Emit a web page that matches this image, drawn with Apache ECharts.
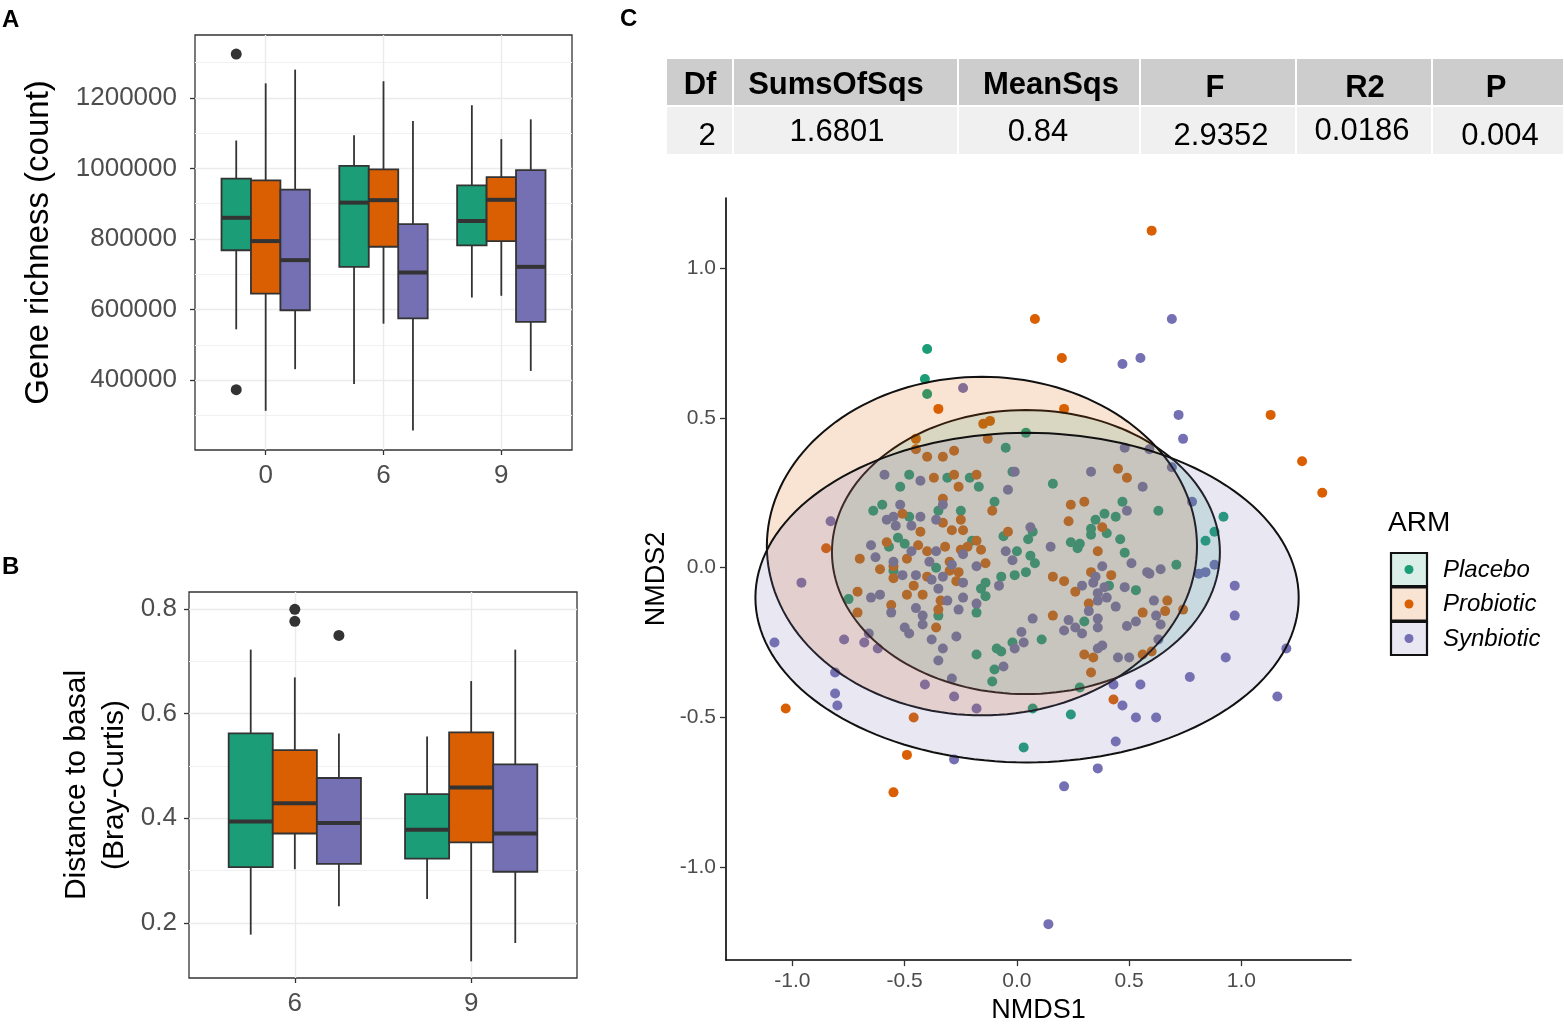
<!DOCTYPE html>
<html>
<head>
<meta charset="utf-8">
<script src="https://cdn.jsdelivr.net/npm/echarts@6/dist/echarts.min.js"></script>
<style>
  html, body { margin: 0; padding: 0; background: #fff; }
  #chart { width: 1564px; height: 1029px; }
</style>
</head>
<body>
<div id="chart"></div>
<script>
const FONT = '"Liberation Sans", Arial, Helvetica, sans-serif';

// groups
const armNames = ["Placebo", "Probiotic", "Synbiotic"];
const armColors = ["#1b9e77", "#d95f02", "#7570b3"];
const armFills = ["rgba(27,158,119,0.17)", "rgba(217,95,2,0.17)", "rgba(117,112,179,0.17)"];

// panel A: gene richness, one box per time point [low, q1, median, q3, high]
const timesA = ["0", "6", "9"];
const richnessPlacebo = [[544000, 768000, 860000, 971000, 1079000], [389000, 721000, 903000, 1007000, 1094000], [634000, 782000, 851000, 952000, 1179000]];
const richnessProbiotic = [[313000, 645000, 794000, 966000, 1241000], [560000, 778000, 910000, 997000, 1247000], [639000, 794000, 911000, 975000, 1083000]];
const richnessSynbiotic = [[431000, 598000, 740000, 940000, 1280000], [257000, 575000, 705000, 842000, 1134000], [426000, 565000, 721000, 995000, 1139000]];
// [time index, arm index, value]
const richnessOutliers = [[0, 0, 1324000], [0, 0, 373000]];
const richTicks = [400000, 600000, 800000, 1000000, 1200000];
const richMinor = [300000, 500000, 700000, 900000, 1100000, 1300000];

// panel B: distance to basal (Bray-Curtis)
const timesB = ["6", "9"];
const distPlacebo = [[0.178, 0.307, 0.394, 0.562, 0.722], [0.246, 0.323, 0.378, 0.446, 0.556]];
const distProbiotic = [[0.303, 0.371, 0.429, 0.530, 0.669], [0.127, 0.354, 0.459, 0.564, 0.662]];
const distSynbiotic = [[0.232, 0.313, 0.391, 0.477, 0.562], [0.162, 0.298, 0.371, 0.503, 0.722]];
const distOutliers = [[0, 1, 0.799], [0, 1, 0.776], [0, 2, 0.749]];
const distTicks = [0.2, 0.4, 0.6, 0.8];
const distMinor = [0.3, 0.5, 0.7];

// panel C: NMDS ordination
const placeboPts = [
  [-0.40, 0.73], [-0.41, 0.63], [-0.40, 0.58], [0.03, -0.60], [0.24, -0.49], [0.07, -0.47], [0.92, 0.17], [0.88, 0.12], [0.84, 0.09], [0.28, -0.40],
  [-0.75, -0.105], [-0.35, -0.16], [-0.18, -0.29], [-0.14, -0.095], [-0.16, -0.07], [-0.14, -0.05], [-0.18, -0.15], [-0.11, -0.38], [-0.10, -0.34], [-0.09, -0.27],
  [-0.48, 0.31], [-0.31, 0.30], [-0.21, 0.30], [-0.17, 0.27], [-0.52, 0.27], [-0.60, 0.21], [-0.64, 0.19], [-0.48, 0.17], [-0.35, 0.19], [-0.25, 0.19],
  [-0.10, 0.22], [-0.53, 0.10], [-0.50, 0.08], [-0.57, 0.07], [-0.20, 0.09], [-0.36, 0.00], [-0.55, -0.01], [0.04, 0.45], [-0.05, 0.40], [-0.02, 0.32],
  [0.16, 0.28], [0.47, 0.22], [0.63, 0.19], [0.44, 0.17], [0.39, 0.18], [0.35, 0.16], [0.33, 0.13], [0.33, 0.11], [0.40, 0.115], [0.24, 0.085],
  [0.28, 0.08], [0.27, 0.065], [0.46, 0.095], [0.48, 0.05], [0.71, 0.01], [0.07, 0.12], [0.05, 0.095], [-0.06, 0.105], [0.00, 0.055], [0.06, 0.04],
  [0.08, 0.015], [0.04, -0.015], [-0.01, -0.025], [-0.07, -0.03], [0.53, -0.075], [0.30, -0.18], [0.11, -0.24], [-0.02, -0.25], [-0.07, -0.28], [0.41, -0.06]
];
const probioticPts = [
  [0.60, 1.125], [0.08, 0.83], [0.20, 0.70], [0.21, 0.53], [1.13, 0.51], [1.27, 0.355], [1.36, 0.25], [-1.03, -0.47], [-0.49, -0.625], [-0.55, -0.75],
  [-0.46, -0.50], [0.43, -0.44], [-0.35, 0.53], [-0.71, -0.08], [-0.71, -0.15], [-0.56, -0.125], [-0.49, -0.09], [-0.46, -0.06], [-0.42, -0.09], [-0.55, -0.035],
  [-0.36, -0.20], [-0.35, -0.14], [-0.34, -0.11], [-0.27, -0.045], [-0.40, -0.03], [-0.45, 0.43], [-0.45, 0.395], [-0.40, 0.37], [-0.33, 0.37], [-0.28, 0.39],
  [-0.37, 0.30], [-0.28, 0.31], [-0.18, 0.31], [-0.26, 0.27], [-0.13, 0.43], [-0.15, 0.48], [-0.12, 0.49], [-0.33, 0.23], [-0.25, 0.16], [-0.29, 0.125],
  [-0.24, 0.125], [-0.43, 0.12], [-0.51, 0.18], [-0.33, 0.15], [-0.58, 0.085], [-0.44, 0.075], [-0.40, 0.055], [-0.32, 0.07], [-0.25, 0.06], [-0.22, 0.07],
  [-0.18, 0.09], [-0.16, 0.06], [-0.14, 0.015], [-0.30, 0.02], [-0.49, 0.03], [-0.70, 0.03], [-0.61, -0.005], [-0.55, 0.005], [-0.30, -0.01], [-0.26, -0.015],
  [-0.85, 0.065], [-0.11, 0.19], [0.45, 0.33], [0.49, 0.30], [0.24, 0.21], [0.30, 0.22], [0.23, 0.155], [0.38, 0.135], [0.36, 0.055], [-0.04, 0.12],
  [0.16, -0.03], [0.21, -0.045], [0.42, -0.025], [0.33, -0.015], [0.26, -0.08], [0.32, -0.12], [0.16, -0.16], [0.56, -0.15], [0.66, -0.145], [0.67, -0.11],
  [0.74, -0.14], [0.30, -0.29], [0.34, -0.30], [0.33, -0.35], [0.56, -0.29], [0.60, -0.28]
];
const synbioticPts = [
  [0.69, 0.83], [0.55, 0.70], [0.47, 0.68], [0.72, 0.51], [0.74, 0.43], [-0.24, 0.60], [-0.96, -0.05], [-1.08, -0.25], [-0.81, -0.35], [-0.81, -0.42],
  [-0.80, -0.46], [0.97, -0.06], [0.88, 0.01], [0.97, -0.16], [0.93, -0.30], [1.20, -0.27], [1.16, -0.43], [0.77, -0.365], [0.62, -0.50], [0.53, -0.50],
  [0.44, -0.58], [0.36, -0.67], [0.21, -0.73], [-0.28, -0.64], [0.14, -1.19], [0.47, -0.46], [0.43, -0.39], [0.55, -0.39], [-0.77, -0.24], [-0.68, -0.25],
  [-0.62, -0.27], [-0.66, -0.22], [-0.41, -0.39], [-0.28, -0.43], [-0.18, -0.47], [-0.29, -0.37], [-0.35, -0.31], [-0.33, -0.27], [-0.38, -0.24], [-0.27, -0.23],
  [-0.65, -0.10], [-0.61, -0.09], [-0.56, -0.15], [-0.45, -0.135], [-0.42, -0.16], [-0.42, -0.19], [-0.50, -0.20], [-0.48, -0.22], [-0.38, -0.04], [-0.35, -0.07],
  [-0.31, -0.11], [-0.24, -0.10], [-0.26, -0.14], [-0.18, -0.12], [-0.24, -0.05], [-0.08, -0.06], [-0.59, 0.31], [-0.43, 0.29], [-0.52, 0.21], [-0.33, 0.21],
  [-0.43, 0.17], [-0.58, 0.16], [-0.55, 0.17], [-0.54, 0.14], [-0.47, 0.14], [-0.36, 0.16], [-0.65, 0.075], [-0.63, 0.035], [-0.47, 0.055], [-0.36, 0.055],
  [-0.55, 0.02], [-0.51, -0.025], [-0.45, -0.025], [-0.39, 0.02], [-0.33, -0.03], [-0.29, 0.01], [-0.24, 0.045], [-0.18, 0.005], [-0.83, 0.155], [-0.01, 0.32],
  [-0.04, 0.26], [0.33, 0.32], [0.48, 0.40], [0.59, 0.395], [0.56, 0.27], [0.69, 0.335], [0.49, 0.19], [0.06, 0.135], [0.15, 0.07], [-0.05, 0.055],
  [-0.02, 0.025], [0.51, 0.015], [0.58, -0.015], [0.64, -0.005], [0.38, 0.005], [0.35, -0.03], [0.78, 0.22], [0.81, -0.02], [0.84, -0.015], [0.07, -0.17],
  [0.23, -0.175], [0.21, -0.21], [0.26, -0.20], [0.29, -0.22], [0.36, -0.17], [0.36, -0.20], [0.32, -0.145], [0.44, -0.13], [0.48, -0.065], [0.61, -0.11],
  [0.62, -0.16], [0.64, -0.19], [0.53, -0.18], [0.49, -0.195], [0.63, -0.24], [0.02, -0.215], [0.03, -0.25], [-0.01, -0.27], [-0.06, -0.33], [0.36, -0.27],
  [0.38, -0.26], [0.45, -0.30], [0.50, -0.30], [0.29, -0.06], [0.34, -0.05], [0.39, -0.065], [0.36, -0.085], [0.40, -0.10], [0.36, -0.11], [0.59, -0.02]
];
// confidence ellipses: [centre x, centre y, radius x, radius y]
const placeboEllipse = [0.04, 0.052, 0.864, 0.474];
const probioticEllipse = [-0.156, 0.072, 0.958, 0.565];
const synbioticEllipse = [0.045, -0.1, 1.21, 0.55];
const nmdsTicks = [-1.0, -0.5, 0.0, 0.5, 1.0];

// PERMANOVA table
const tableHeader = ["Df", "SumsOfSqs", "MeanSqs", "F", "R2", "P"];
const tableRow = ["2", "1.6801", "0.84", "2.9352", "0.0186", "0.004"];

const chart = echarts.init(document.getElementById("chart"));

function boxSeries(xIdx, yIdx, arm, boxes) {
  return {
    type: "custom",
    xAxisIndex: xIdx,
    yAxisIndex: yIdx,
    z: 3,
    data: boxes.map((b, i) => [i].concat(b)),
    encode: { x: 0, y: [1, 2, 3, 4, 5] },
    renderItem: function (params, api) {
      const cat = api.value(0);
      const w = api.size([1, 0])[0] * 0.25;
      const xc = api.coord([cat, api.value(3)])[0] + (arm - 1) * w;
      const py = (i) => api.coord([cat, api.value(i)])[1];
      const stroke = "#333333";
      return {
        type: "group",
        children: [
          { type: "line", shape: { x1: xc, y1: py(5), x2: xc, y2: py(4) }, style: { stroke: stroke, lineWidth: 1.8 } },
          { type: "line", shape: { x1: xc, y1: py(2), x2: xc, y2: py(1) }, style: { stroke: stroke, lineWidth: 1.8 } },
          { type: "rect", shape: { x: xc - w / 2, y: py(4), width: w, height: py(2) - py(4) }, style: { fill: armColors[arm], stroke: stroke, lineWidth: 1.8 } },
          { type: "line", shape: { x1: xc - w / 2, y1: py(3), x2: xc + w / 2, y2: py(3) }, style: { stroke: stroke, lineWidth: 4 } }
        ]
      };
    }
  };
}

function outlierSeries(xIdx, yIdx, outliers) {
  return {
    type: "scatter",
    xAxisIndex: xIdx,
    yAxisIndex: yIdx,
    z: 4,
    symbolSize: 11,
    itemStyle: { color: "#333333", opacity: 1 },
    data: outliers.map((o) => [o[0] + (o[1] - 1) * 0.25, o[2]])
  };
}

const tickStyle = { color: "#333333", width: 1.3 };
const labelBase = { color: "#4d4d4d", fontFamily: FONT };
const gridLine = { lineStyle: { color: "#ebebeb", width: 1.4 } };

function catAxis(gridIndex, labels) {
  const vals = labels.map((l, i) => i);
  return {
    gridIndex: gridIndex, type: "value", min: -0.6, max: labels.length - 0.4,
    axisLine: { show: false, onZero: false },
    axisTick: { customValues: vals, length: 5, lineStyle: tickStyle },
    axisLabel: Object.assign({ customValues: vals, formatter: (v) => labels[Math.round(v)], fontSize: 26, margin: 13 }, labelBase),
    splitLine: Object.assign({ show: true }, gridLine)
  };
}

function minorAxis(gridIndex, min, max, vals) {
  return {
    gridIndex: gridIndex, type: "value", min: min, max: max, position: "left",
    axisLine: { show: false, onZero: false }, axisLabel: { show: false },
    axisTick: { show: false, customValues: vals },
    splitLine: { show: true, lineStyle: { color: "#f1f1f1", width: 1 } }
  };
}

const nameStyle = { color: "#000", fontFamily: FONT };

// graphic bits: panel letters, table, legend
const graphics = [];
[["A", 2, 8], ["B", 2, 555], ["C", 620, 7]].forEach((p) => {
  graphics.push({ type: "text", x: p[1], y: p[2], style: { text: p[0], fontSize: 24, fontWeight: "bold", fontFamily: FONT, fill: "#000" } });
});
const colEdges = [666, 733, 958, 1140, 1296, 1432, 1564];
const headX = [700, 836, 1051, 1215, 1365, 1496];
const headY = [101, 101, 101, 104, 104, 104];
const rowX = [707, 837, 1038, 1221, 1362, 1500];
const rowY = [152, 148, 148, 152, 147, 152];
tableHeader.forEach((h, i) => {
  const x0 = colEdges[i] + 1, x1 = colEdges[i + 1] - 1;
  graphics.push({ type: "rect", shape: { x: x0, y: 59, width: x1 - x0, height: 46 }, style: { fill: "#cdcdcd" } });
  graphics.push({ type: "rect", shape: { x: x0, y: 107, width: x1 - x0, height: 47 }, style: { fill: "#f0f0f0" } });
  graphics.push({ type: "text", x: headX[i], y: headY[i], style: { text: h, fontSize: 31, fontWeight: "bold", fontFamily: FONT, fill: "#000", align: "center", verticalAlign: "bottom" } });
  graphics.push({ type: "text", x: rowX[i], y: rowY[i], style: { text: tableRow[i], fontSize: 31, fontFamily: FONT, fill: "#000", align: "center", verticalAlign: "bottom" } });
});
graphics.push({ type: "text", x: 1388, y: 537, style: { text: "ARM", fontSize: 28, fontFamily: FONT, fill: "#000", verticalAlign: "bottom" } });
armNames.forEach((n, i) => {
  const top = 553 + i * 34.5;
  graphics.push({ type: "rect", shape: { x: 1391, y: top, width: 36, height: 33 }, style: { fill: armFills[i], stroke: "#111", lineWidth: 2.2 } });
  graphics.push({ type: "circle", shape: { cx: 1409, cy: top + 16.5, r: 4.5 }, style: { fill: armColors[i] } });
  graphics.push({ type: "text", x: 1443, y: top + 17, style: { text: n, fontSize: 24, fontStyle: "italic", fontFamily: FONT, fill: "#000", verticalAlign: "middle" } });
});

const option = {
  animation: false,
  backgroundColor: "#ffffff",
  textStyle: { fontFamily: FONT },
  grid: [
    { left: 195, top: 35, width: 377, height: 415, show: true, borderColor: "#333333", borderWidth: 1.3, backgroundColor: "transparent" },
    { left: 189, top: 592, width: 388, height: 386, show: true, borderColor: "#333333", borderWidth: 1.3, backgroundColor: "transparent" },
    { left: 726, top: 198, width: 625, height: 772 }
  ],
  xAxis: [
    catAxis(0, timesA),
    catAxis(1, timesB),
    {
      gridIndex: 2, type: "value", min: -1.296, max: 1.488,
      axisLine: { show: true, onZero: false, lineStyle: { color: "#000", width: 1.6 } },
      axisTick: { customValues: nmdsTicks, length: 6, lineStyle: tickStyle },
      axisLabel: Object.assign({ customValues: nmdsTicks, formatter: (v) => v.toFixed(1), fontSize: 21, margin: 11 }, labelBase),
      splitLine: { show: false },
      name: "NMDS1", nameLocation: "middle", nameGap: 32,
      nameTextStyle: Object.assign({ fontSize: 27 }, nameStyle)
    }
  ],
  yAxis: [
    {
      gridIndex: 0, type: "value", min: 202000, max: 1378000,
      axisLine: { show: false, onZero: false },
      axisTick: { customValues: richTicks, length: 5, lineStyle: tickStyle },
      axisLabel: Object.assign({ customValues: richTicks, formatter: (v) => String(v), fontSize: 26, margin: 18 }, labelBase),
      splitLine: Object.assign({ show: true }, gridLine),
      name: "Gene richness (count)", nameLocation: "middle", nameRotate: 90, nameGap: 140,
      nameTextStyle: Object.assign({ fontSize: 33 }, nameStyle)
    },
    minorAxis(0, 202000, 1378000, richMinor),
    {
      gridIndex: 1, type: "value", min: 0.0952, max: 0.832,
      axisLine: { show: false, onZero: false },
      axisTick: { customValues: distTicks, length: 5, lineStyle: tickStyle },
      axisLabel: Object.assign({ customValues: distTicks, formatter: (v) => v.toFixed(1), fontSize: 26, margin: 12 }, labelBase),
      splitLine: Object.assign({ show: true }, gridLine),
      name: "Distance to basal\n(Bray-Curtis)", nameLocation: "middle", nameRotate: 90, nameGap: 55,
      nameTextStyle: Object.assign({ fontSize: 30, lineHeight: 38, align: "center" }, nameStyle)
    },
    minorAxis(1, 0.0952, 0.832, distMinor),
    {
      gridIndex: 2, type: "value", min: -1.31, max: 1.234,
      axisLine: { show: true, onZero: false, lineStyle: { color: "#000", width: 1.6 } },
      axisTick: { customValues: nmdsTicks, length: 6, lineStyle: tickStyle },
      axisLabel: Object.assign({ customValues: nmdsTicks, formatter: (v) => v.toFixed(1), fontSize: 21, margin: 10 }, labelBase),
      splitLine: { show: false },
      name: "NMDS2", nameLocation: "middle", nameRotate: 90, nameGap: 56,
      nameTextStyle: Object.assign({ fontSize: 27 }, nameStyle)
    }
  ],
  series: [
    boxSeries(0, 0, 0, richnessPlacebo),
    boxSeries(0, 0, 1, richnessProbiotic),
    boxSeries(0, 0, 2, richnessSynbiotic),
    outlierSeries(0, 0, richnessOutliers),
    boxSeries(1, 2, 0, distPlacebo),
    boxSeries(1, 2, 1, distProbiotic),
    boxSeries(1, 2, 2, distSynbiotic),
    outlierSeries(1, 2, distOutliers),
    ...[placeboPts, probioticPts, synbioticPts].map((pts, i) => ({
      type: "scatter", name: armNames[i], xAxisIndex: 2, yAxisIndex: 4, z: 2,
      symbolSize: 10, itemStyle: { color: armColors[i], opacity: 1 }, data: pts
    })),
    {
      type: "custom", xAxisIndex: 2, yAxisIndex: 4, z: 3,
      data: [placeboEllipse, probioticEllipse, synbioticEllipse],
      encode: { x: 0, y: 1 },
      renderItem: function (params, api) {
        const cx = api.value(0), cy = api.value(1), rx = api.value(2), ry = api.value(3);
        const pts = [];
        for (let k = 0; k < 160; k++) {
          const t = (k / 160) * Math.PI * 2;
          pts.push(api.coord([cx + rx * Math.cos(t), cy + ry * Math.sin(t)]));
        }
        return { type: "polygon", shape: { points: pts }, style: { fill: armFills[params.dataIndex], stroke: "#111111", lineWidth: 2 } };
      }
    }
  ],
  graphic: graphics
};

chart.setOption(option);
</script>
</body>
</html>
